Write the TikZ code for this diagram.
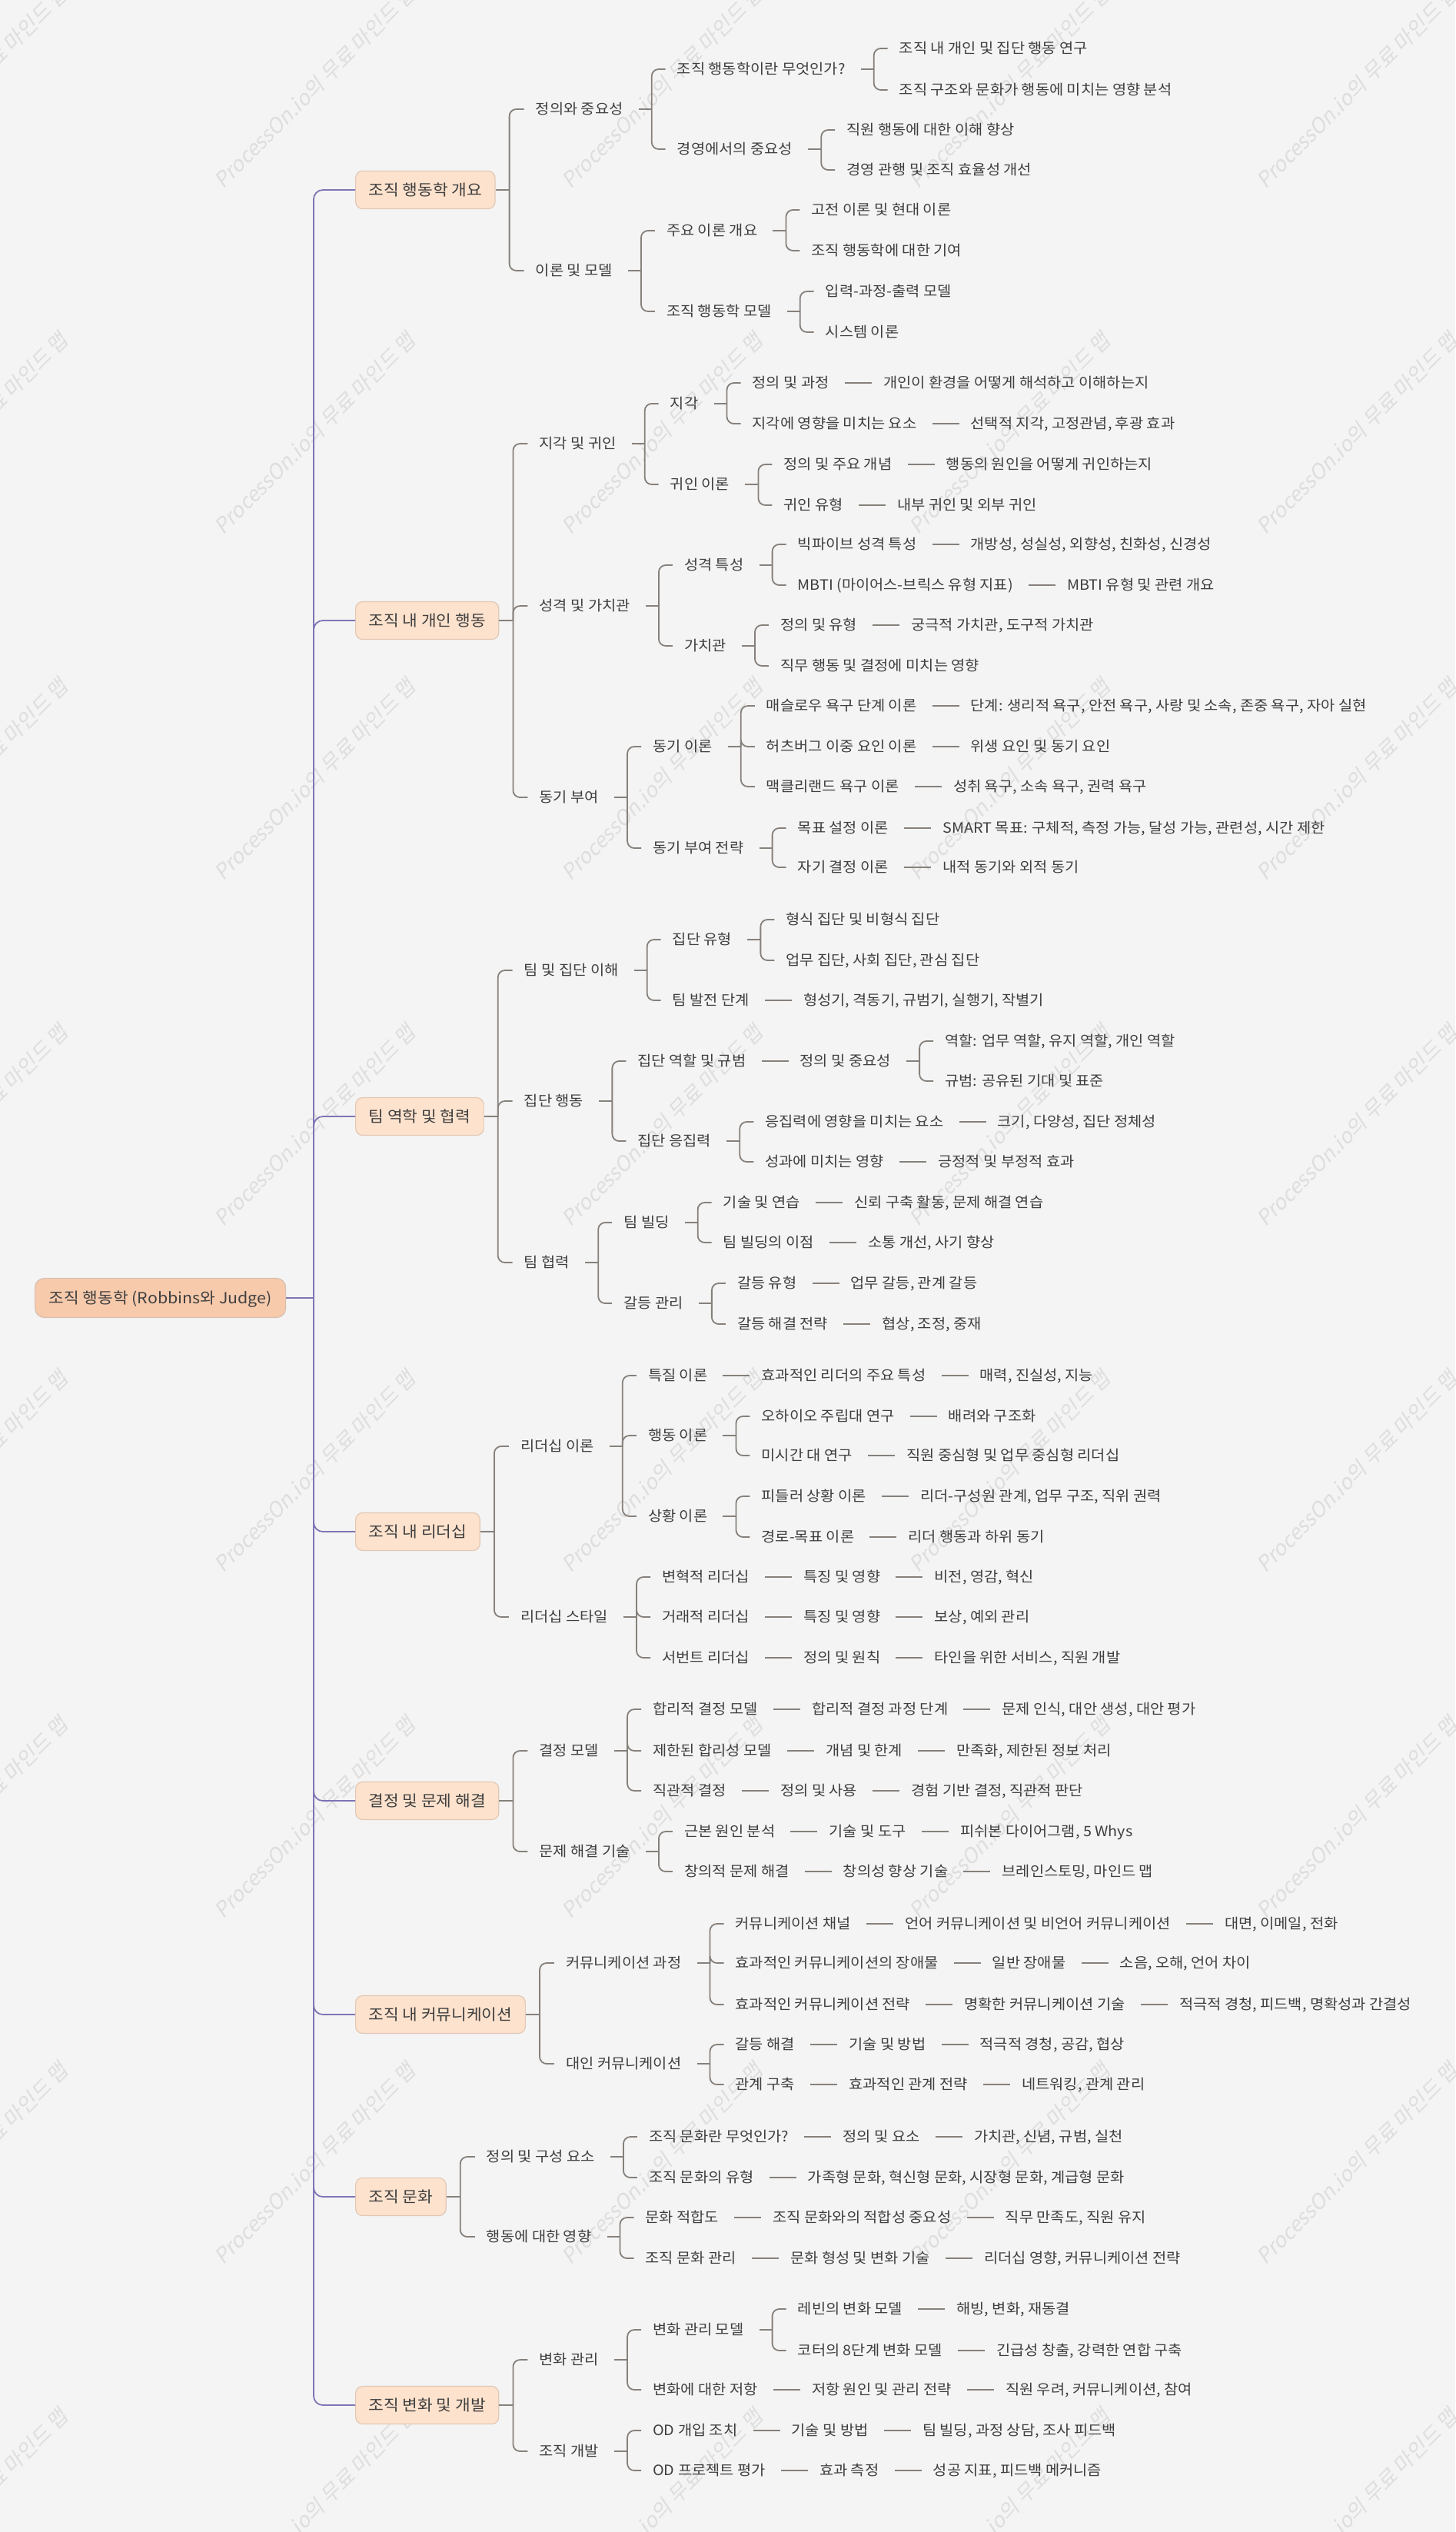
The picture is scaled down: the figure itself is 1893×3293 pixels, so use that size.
\documentclass[tikz,border=0pt]{standalone}
\usepackage{fontspec}
\setmainfont{Noto Sans CJK KR}[FakeStretch=1.07]
\newfontfamily\wmfont{Noto Sans CJK KR}[FakeSlant=0.2]
\usetikzlibrary{calc}
\definecolor{bgc}{HTML}{F4F4F4}
\definecolor{txtc}{HTML}{3F3F3F}
\definecolor{conncol}{HTML}{86807B}
\definecolor{trunkc}{HTML}{7D75B5}
\definecolor{rootfill}{HTML}{F7CAAC}
\definecolor{rootdraw}{HTML}{D8BFAF}
\definecolor{lfill}{HTML}{FDE2CD}
\definecolor{ldraw}{HTML}{E2C8B5}
\definecolor{wmc}{HTML}{DEDEDE}
\tikzset{
 txt/.style={anchor=west, inner sep=0pt, text=txtc, font=\fontsize{18.5pt}{22pt}\selectfont, text height=15.8pt, text depth=2pt},
 rootbox/.style={anchor=west, draw=rootdraw, fill=rootfill, rounded corners=12pt, line width=1.2pt, inner xsep=18pt, minimum height=51pt, text=txtc, font=\fontsize{20pt}{24pt}\selectfont, text height=17pt, text depth=2pt},
 lbox/.style={anchor=west, draw=ldraw, fill=lfill, rounded corners=9pt, line width=1.2pt, inner xsep=17pt, minimum height=49pt, text=txtc, font=\fontsize{20pt}{24pt}\selectfont, text height=17pt, text depth=2pt},
 connline/.style={draw=conncol, line width=1.8pt},
 trunkline/.style={draw=trunkc, line width=1.8pt},
 wm/.style={text=wmc, font=\wmfont\fontsize{27pt}{30pt}\selectfont, rotate=45, anchor=base west, inner sep=0pt},
}
% node placed right of parent
\newcommand\mnode[5][70]{\path let \p1=(#3.east) in node[txt] (#2) at (\x1+#1pt,-#4pt) {#5};}
\newcommand\mkid[2]{\draw[connline, rounded corners=9pt] (#1-v) |- ([xshift=-15pt]#2.west);}
\newcommand\mkids[2]{\coordinate (#1-v) at ([xshift=37pt]#1.east);
  \draw[connline] ([xshift=20pt]#1.east) -- (#1-v);
  \foreach \cc in {#2}{\mkid{#1}{\cc}}}
\newcommand\mlkids[2]{\coordinate (#1-v) at ([xshift=18pt]#1.east);
  \draw[connline] (#1.east) -- (#1-v);
  \foreach \cc in {#2}{\mkid{#1}{\cc}}}
\newcommand\mchain[2]{\draw[connline] ([xshift=20pt]#1.east) -- ([xshift=-15pt]#2.west);}

\begin{document}
\begin{tikzpicture}
\clip (0pt,0pt) rectangle (1893pt,-3293pt);
\fill[bgc] (0pt,0pt) rectangle (1893pt,-3293pt);
% watermarks
\foreach \i in {-1,...,3}{\foreach \j in {-1,...,7}{
  \node[wm] at ({(290+452*\i)*1pt},{-(247+450*\j)*1pt}) {ProcessOn.io의 무료 마인드 맵};}}

% root
\node[rootbox] (R) at (45pt,-1688pt) {조직 행동학 (Robbins와 Judge)};
\coordinate (Rv) at (408pt,-1688pt);

% level 1
\node[lbox] (A) at (462pt,-247pt) {조직 행동학 개요};
\node[lbox] (B) at (462pt,-807pt) {조직 내 개인 행동};
\node[lbox] (C) at (462pt,-1452pt) {팀 역학 및 협력};
\node[lbox] (D) at (462pt,-1992pt) {조직 내 리더십};
\node[lbox] (E) at (462pt,-2342pt) {결정 및 문제 해결};
\node[lbox] (F) at (462pt,-2620pt) {조직 내 커뮤니케이션};
\node[lbox] (G) at (462pt,-2857pt) {조직 문화};
\node[lbox] (H) at (462pt,-3128pt) {조직 변화 및 개발};

\draw[trunkline] (R.east) -- (Rv);
\foreach \nn in {A,B,C,D,E,F,G,H}{\draw[trunkline, rounded corners=12pt] (Rv) |- (\nn.west);}

% ---- A
\mnode[52]{A1}{A}{142}{정의와 중요성}
\mnode{A11}{A1}{90}{조직 행동학이란 무엇인가?}
\mnode{A111}{A11}{63}{조직 내 개인 및 집단 행동 연구}
\mnode{A112}{A11}{117}{조직 구조와 문화가 행동에 미치는 영향 분석}
\mnode{A12}{A1}{194}{경영에서의 중요성}
\mnode{A121}{A12}{169}{직원 행동에 대한 이해 향상}
\mnode{A122}{A12}{221}{경영 관행 및 조직 효율성 개선}
\mnode[52]{A2}{A}{352}{이론 및 모델}
\mnode{A21}{A2}{300}{주요 이론 개요}
\mnode{A211}{A21}{273}{고전 이론 및 현대 이론}
\mnode{A212}{A21}{326}{조직 행동학에 대한 기여}
\mnode{A22}{A2}{405}{조직 행동학 모델}
\mnode{A221}{A22}{379}{입력-과정-출력 모델}
\mnode{A222}{A22}{432}{시스템 이론}
\mlkids{A}{A1,A2}
\mkids{A1}{A11,A12}
\mkids{A11}{A111,A112}
\mkids{A12}{A121,A122}
\mkids{A2}{A21,A22}
\mkids{A21}{A211,A212}
\mkids{A22}{A221,A222}

% ---- B
\mnode[52]{B1}{B}{577}{지각 및 귀인}
\mnode{B11}{B1}{525}{지각}
\mnode{B111}{B11}{498}{정의 및 과정}
\mnode{B112}{B111}{498}{개인이 환경을 어떻게 해석하고 이해하는지}
\mnode{B113}{B11}{551}{지각에 영향을 미치는 요소}
\mnode{B114}{B113}{551}{선택적 지각, 고정관념, 후광 효과}
\mnode{B12}{B1}{630}{귀인 이론}
\mnode{B121}{B12}{604}{정의 및 주요 개념}
\mnode{B122}{B121}{604}{행동의 원인을 어떻게 귀인하는지}
\mnode{B123}{B12}{657}{귀인 유형}
\mnode{B124}{B123}{657}{내부 귀인 및 외부 귀인}
\mnode[52]{B2}{B}{788}{성격 및 가치관}
\mnode{B21}{B2}{735}{성격 특성}
\mnode{B211}{B21}{708}{빅파이브 성격 특성}
\mnode{B212}{B211}{708}{개방성, 성실성, 외향성, 친화성, 신경성}
\mnode{B213}{B21}{761}{MBTI (마이어스-브릭스 유형 지표)}
\mnode{B214}{B213}{761}{MBTI 유형 및 관련 개요}
\mnode{B22}{B2}{840}{가치관}
\mnode{B221}{B22}{813}{정의 및 유형}
\mnode{B222}{B221}{813}{궁극적 가치관, 도구적 가치관}
\mnode{B223}{B22}{866}{직무 행동 및 결정에 미치는 영향}
\mnode[52]{B3}{B}{1037}{동기 부여}
\mnode{B31}{B3}{971}{동기 이론}
\mnode{B311}{B31}{918}{매슬로우 욕구 단계 이론}
\mnode{B312}{B311}{918}{단계: 생리적 욕구, 안전 욕구, 사랑 및 소속, 존중 욕구, 자아 실현}
\mnode{B313}{B31}{971}{허츠버그 이중 요인 이론}
\mnode{B314}{B313}{971}{위생 요인 및 동기 요인}
\mnode{B315}{B31}{1023}{맥클리랜드 욕구 이론}
\mnode{B316}{B315}{1023}{성취 욕구, 소속 욕구, 권력 욕구}
\mnode{B32}{B3}{1103}{동기 부여 전략}
\mnode{B321}{B32}{1077}{목표 설정 이론}
\mnode{B322}{B321}{1077}{SMART 목표: 구체적, 측정 가능, 달성 가능, 관련성, 시간 제한}
\mnode{B323}{B32}{1128}{자기 결정 이론}
\mnode{B324}{B323}{1128}{내적 동기와 외적 동기}
\mlkids{B}{B1,B2,B3}
\mkids{B1}{B11,B12}
\mkids{B11}{B111,B113}
\mchain{B111}{B112}\mchain{B113}{B114}
\mkids{B12}{B121,B123}
\mchain{B121}{B122}\mchain{B123}{B124}
\mkids{B2}{B21,B22}
\mkids{B21}{B211,B213}
\mchain{B211}{B212}\mchain{B213}{B214}
\mkids{B22}{B221,B223}
\mchain{B221}{B222}
\mkids{B3}{B31,B32}
\mkids{B31}{B311,B313,B315}
\mchain{B311}{B312}\mchain{B313}{B314}\mchain{B315}{B316}
\mkids{B32}{B321,B323}
\mchain{B321}{B322}\mchain{B323}{B324}

% ---- C
\mnode[52]{C1}{C}{1262}{팀 및 집단 이해}
\mnode{C11}{C1}{1222}{집단 유형}
\mnode{C111}{C11}{1196}{형식 집단 및 비형식 집단}
\mnode{C112}{C11}{1249}{업무 집단, 사회 집단, 관심 집단}
\mnode{C12}{C1}{1301}{팀 발전 단계}
\mnode{C121}{C12}{1301}{형성기, 격동기, 규범기, 실행기, 작별기}
\mnode[52]{C2}{C}{1432}{집단 행동}
\mnode{C21}{C2}{1380}{집단 역할 및 규범}
\mnode{C211}{C21}{1380}{정의 및 중요성}
\mnode{C2111}{C211}{1354}{역할: 업무 역할, 유지 역할, 개인 역할}
\mnode{C2112}{C211}{1406}{규범: 공유된 기대 및 표준}
\mnode{C22}{C2}{1484}{집단 응집력}
\mnode{C221}{C22}{1459}{응집력에 영향을 미치는 요소}
\mnode{C222}{C221}{1459}{크기, 다양성, 집단 정체성}
\mnode{C223}{C22}{1511}{성과에 미치는 영향}
\mnode{C224}{C223}{1511}{긍정적 및 부정적 효과}
\mnode[52]{C3}{C}{1642}{팀 협력}
\mnode{C31}{C3}{1590}{팀 빌딩}
\mnode{C311}{C31}{1564}{기술 및 연습}
\mnode{C312}{C311}{1564}{신뢰 구축 활동, 문제 해결 연습}
\mnode{C313}{C31}{1616}{팀 빌딩의 이점}
\mnode{C314}{C313}{1616}{소통 개선, 사기 향상}
\mnode{C32}{C3}{1695}{갈등 관리}
\mnode{C321}{C32}{1669}{갈등 유형}
\mnode{C322}{C321}{1669}{업무 갈등, 관계 갈등}
\mnode{C323}{C32}{1722}{갈등 해결 전략}
\mnode{C324}{C323}{1722}{협상, 조정, 중재}
\mlkids{C}{C1,C2,C3}
\mkids{C1}{C11,C12}
\mkids{C11}{C111,C112}
\mchain{C12}{C121}
\mkids{C2}{C21,C22}
\mchain{C21}{C211}
\mkids{C211}{C2111,C2112}
\mkids{C22}{C221,C223}
\mchain{C221}{C222}\mchain{C223}{C224}
\mkids{C3}{C31,C32}
\mkids{C31}{C311,C313}
\mchain{C311}{C312}\mchain{C313}{C314}
\mkids{C32}{C321,C323}
\mchain{C321}{C322}\mchain{C323}{C324}

% ---- D
\mnode[52]{D1}{D}{1881}{리더십 이론}
\mnode{D11}{D1}{1789}{특질 이론}
\mnode{D111}{D11}{1789}{효과적인 리더의 주요 특성}
\mnode{D112}{D111}{1789}{매력, 진실성, 지능}
\mnode{D12}{D1}{1867}{행동 이론}
\mnode{D121}{D12}{1842}{오하이오 주립대 연구}
\mnode{D122}{D121}{1842}{배려와 구조화}
\mnode{D123}{D12}{1893}{미시간 대 연구}
\mnode{D124}{D123}{1893}{직원 중심형 및 업무 중심형 리더십}
\mnode{D13}{D1}{1972}{상황 이론}
\mnode{D131}{D13}{1946}{피들러 상황 이론}
\mnode{D132}{D131}{1946}{리더-구성원 관계, 업무 구조, 직위 권력}
\mnode{D133}{D13}{1999}{경로-목표 이론}
\mnode{D134}{D133}{1999}{리더 행동과 하위 동기}
\mnode[52]{D2}{D}{2103}{리더십 스타일}
\mnode{D21}{D2}{2051}{변혁적 리더십}
\mnode{D211}{D21}{2051}{특징 및 영향}
\mnode{D212}{D211}{2051}{비전, 영감, 혁신}
\mnode{D22}{D2}{2103}{거래적 리더십}
\mnode{D221}{D22}{2103}{특징 및 영향}
\mnode{D222}{D221}{2103}{보상, 예외 관리}
\mnode{D23}{D2}{2156}{서번트 리더십}
\mnode{D231}{D23}{2156}{정의 및 원칙}
\mnode{D232}{D231}{2156}{타인을 위한 서비스, 직원 개발}
\mlkids{D}{D1,D2}
\mkids{D1}{D11,D12,D13}
\mchain{D11}{D111}\mchain{D111}{D112}
\mkids{D12}{D121,D123}
\mchain{D121}{D122}\mchain{D123}{D124}
\mkids{D13}{D131,D133}
\mchain{D131}{D132}\mchain{D133}{D134}
\mkids{D2}{D21,D22,D23}
\mchain{D21}{D211}\mchain{D211}{D212}
\mchain{D22}{D221}\mchain{D221}{D222}
\mchain{D23}{D231}\mchain{D231}{D232}

% ---- E
\mnode[52]{E1}{E}{2277}{결정 모델}
\mnode{E11}{E1}{2223}{합리적 결정 모델}
\mnode{E111}{E11}{2223}{합리적 결정 과정 단계}
\mnode{E112}{E111}{2223}{문제 인식, 대안 생성, 대안 평가}
\mnode{E12}{E1}{2277}{제한된 합리성 모델}
\mnode{E121}{E12}{2277}{개념 및 한계}
\mnode{E122}{E121}{2277}{만족화, 제한된 정보 처리}
\mnode{E13}{E1}{2329}{직관적 결정}
\mnode{E131}{E13}{2329}{정의 및 사용}
\mnode{E132}{E131}{2329}{경험 기반 결정, 직관적 판단}
\mnode[52]{E2}{E}{2408}{문제 해결 기술}
\mnode{E21}{E2}{2382}{근본 원인 분석}
\mnode{E211}{E21}{2382}{기술 및 도구}
\mnode{E212}{E211}{2382}{피쉬본 다이어그램, 5 Whys}
\mnode{E22}{E2}{2434}{창의적 문제 해결}
\mnode{E221}{E22}{2434}{창의성 향상 기술}
\mnode{E222}{E221}{2434}{브레인스토밍, 마인드 맵}
\mlkids{E}{E1,E2}
\mkids{E1}{E11,E12,E13}
\mchain{E11}{E111}\mchain{E111}{E112}
\mchain{E12}{E121}\mchain{E121}{E122}
\mchain{E13}{E131}\mchain{E131}{E132}
\mkids{E2}{E21,E22}
\mchain{E21}{E211}\mchain{E211}{E212}
\mchain{E22}{E221}\mchain{E221}{E222}

% ---- F
\mnode[52]{F1}{F}{2553}{커뮤니케이션 과정}
\mnode{F11}{F1}{2502}{커뮤니케이션 채널}
\mnode{F111}{F11}{2502}{언어 커뮤니케이션 및 비언어 커뮤니케이션}
\mnode{F112}{F111}{2502}{대면, 이메일, 전화}
\mnode{F12}{F1}{2553}{효과적인 커뮤니케이션의 장애물}
\mnode{F121}{F12}{2553}{일반 장애물}
\mnode{F122}{F121}{2553}{소음, 오해, 언어 차이}
\mnode{F13}{F1}{2607}{효과적인 커뮤니케이션 전략}
\mnode{F131}{F13}{2607}{명확한 커뮤니케이션 기술}
\mnode{F132}{F131}{2607}{적극적 경청, 피드백, 명확성과 간결성}
\mnode[52]{F2}{F}{2684}{대인 커뮤니케이션}
\mnode{F21}{F2}{2659}{갈등 해결}
\mnode{F211}{F21}{2659}{기술 및 방법}
\mnode{F212}{F211}{2659}{적극적 경청, 공감, 협상}
\mnode{F22}{F2}{2711}{관계 구축}
\mnode{F221}{F22}{2711}{효과적인 관계 전략}
\mnode{F222}{F221}{2711}{네트워킹, 관계 관리}
\mlkids{F}{F1,F2}
\mkids{F1}{F11,F12,F13}
\mchain{F11}{F111}\mchain{F111}{F112}
\mchain{F12}{F121}\mchain{F121}{F122}
\mchain{F13}{F131}\mchain{F131}{F132}
\mkids{F2}{F21,F22}
\mchain{F21}{F211}\mchain{F211}{F212}
\mchain{F22}{F221}\mchain{F221}{F222}

% ---- G
\mnode[52]{G1}{G}{2805}{정의 및 구성 요소}
\mnode{G11}{G1}{2779}{조직 문화란 무엇인가?}
\mnode{G111}{G11}{2779}{정의 및 요소}
\mnode{G112}{G111}{2779}{가치관, 신념, 규범, 실천}
\mnode{G12}{G1}{2832}{조직 문화의 유형}
\mnode{G121}{G12}{2832}{가족형 문화, 혁신형 문화, 시장형 문화, 계급형 문화}
\mnode[52]{G2}{G}{2909}{행동에 대한 영향}
\mnode{G21}{G2}{2884}{문화 적합도}
\mnode{G211}{G21}{2884}{조직 문화와의 적합성 중요성}
\mnode{G212}{G211}{2884}{직무 만족도, 직원 유지}
\mnode{G22}{G2}{2937}{조직 문화 관리}
\mnode{G221}{G22}{2937}{문화 형성 및 변화 기술}
\mnode{G222}{G221}{2937}{리더십 영향, 커뮤니케이션 전략}
\mlkids{G}{G1,G2}
\mkids{G1}{G11,G12}
\mchain{G11}{G111}\mchain{G111}{G112}
\mchain{G12}{G121}
\mkids{G2}{G21,G22}
\mchain{G21}{G211}\mchain{G211}{G212}
\mchain{G22}{G221}\mchain{G221}{G222}

% ---- H
\mnode[52]{H1}{H}{3069}{변화 관리}
\mnode{H11}{H1}{3030}{변화 관리 모델}
\mnode{H111}{H11}{3003}{레빈의 변화 모델}
\mnode{H112}{H111}{3003}{해빙, 변화, 재동결}
\mnode{H113}{H11}{3057}{코터의 8단계 변화 모델}
\mnode{H114}{H113}{3057}{긴급성 창출, 강력한 연합 구축}
\mnode{H12}{H1}{3108}{변화에 대한 저항}
\mnode{H121}{H12}{3108}{저항 원인 및 관리 전략}
\mnode{H122}{H121}{3108}{직원 우려, 커뮤니케이션, 참여}
\mnode[52]{H2}{H}{3188}{조직 개발}
\mnode{H21}{H2}{3161}{OD 개입 조치}
\mnode{H211}{H21}{3161}{기술 및 방법}
\mnode{H212}{H211}{3161}{팀 빌딩, 과정 상담, 조사 피드백}
\mnode{H22}{H2}{3213}{OD 프로젝트 평가}
\mnode{H221}{H22}{3213}{효과 측정}
\mnode{H222}{H221}{3213}{성공 지표, 피드백 메커니즘}
\mlkids{H}{H1,H2}
\mkids{H1}{H11,H12}
\mkids{H11}{H111,H113}
\mchain{H111}{H112}\mchain{H113}{H114}
\mchain{H12}{H121}\mchain{H121}{H122}
\mkids{H2}{H21,H22}
\mchain{H21}{H211}\mchain{H211}{H212}
\mchain{H22}{H221}\mchain{H221}{H222}
\end{tikzpicture}
\end{document}
